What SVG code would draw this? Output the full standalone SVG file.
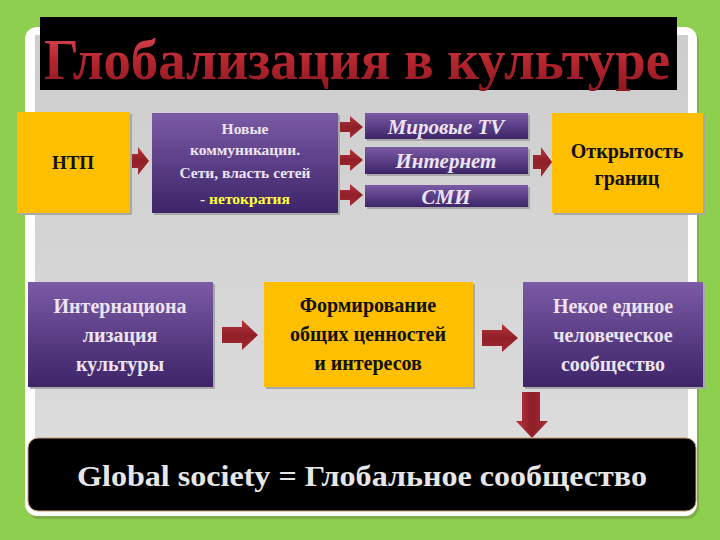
<svg xmlns="http://www.w3.org/2000/svg" width="720" height="540" viewBox="0 0 720 540">
<style>
.sh{fill:#a8a8a8}
.yel{fill:#fdbf00}
.pur{fill:url(#purple)}
text{font-family:"Liberation Serif","Times New Roman","DejaVu Serif",serif;font-weight:bold}
.dk{fill:#111;text-anchor:middle}
.lt{fill:#ece4f2;text-anchor:middle}
.it{font-style:italic;fill:#ece4f2;text-anchor:middle;font-size:21px}
.ah{fill:url(#arrowH)}
.av{fill:url(#arrowV)}
</style>
<defs>
<linearGradient id="purple" x1="0" y1="0" x2="0" y2="1">
<stop offset="0" stop-color="#7b5aa6"/>
<stop offset="1" stop-color="#3d2467"/>
</linearGradient>
<linearGradient id="panel" x1="0" y1="0" x2="0" y2="1">
<stop offset="0" stop-color="#cdcdcd"/>
<stop offset="1" stop-color="#dedede"/>
</linearGradient>
<linearGradient id="title" x1="0" y1="0" x2="0" y2="1">
<stop offset="0" stop-color="#e0505a"/>
<stop offset="0.5" stop-color="#b8262f"/>
<stop offset="1" stop-color="#8a1820"/>
</linearGradient>
<linearGradient id="arrowH" x1="0" y1="0" x2="0" y2="1">
<stop offset="0" stop-color="#b8343c"/>
<stop offset="0.5" stop-color="#8f1f28"/>
<stop offset="1" stop-color="#a52a33"/>
</linearGradient>
<linearGradient id="arrowV" x1="0" y1="0" x2="1" y2="0">
<stop offset="0" stop-color="#b8343c"/>
<stop offset="0.5" stop-color="#8f1f28"/>
<stop offset="1" stop-color="#a52a33"/>
</linearGradient>
</defs>
<rect x="0" y="0" width="720" height="540" fill="#8fcf4f"/>
<rect x="27" y="30" width="672" height="489" rx="12" fill="#7fb048"/>
<rect x="25" y="27" width="672" height="489" rx="12" fill="#ffffff"/>
<rect x="35" y="35" width="653" height="472" fill="url(#panel)"/>
<g id="title-bar">
<rect x="40" y="17" width="637" height="73" fill="#000"/>
<text x="357" y="79" font-size="58" fill="url(#title)" text-anchor="middle" textLength="626" lengthAdjust="spacingAndGlyphs">Глобализация в культуре</text>
</g>
<g id="connectors">
<path class="ah" d="M130,154 H138 V147 L149,161 L138,175 V168 H130 Z"/>
<path class="ah" d="M338,122 H350 V116 L363,127 L350,138 V132 H338 Z"/>
<path class="ah" d="M338,155 H350 V149 L363,160 L350,171 V165 H338 Z"/>
<path class="ah" d="M338,190 H350 V184 L363,195 L350,206 V200 H338 Z"/>
<path class="ah" d="M533,155 H541 V147 L552,162 L541,177 V169 H533 Z"/>
<path class="ah" d="M222,327 H242 V320 L258,335 L242,350 V343 H222 Z"/>
<path class="ah" d="M482,330 H502 V324 L518,338 L502,352 V346 H482 Z"/>
<path class="av" d="M522,392 H540 V421 H548 L532,438 L516,421 H522 Z"/>
</g>
<g id="ntp">
<rect class="sh" x="19" y="114" width="113" height="101"/>
<rect class="yel" x="17" y="112" width="113" height="101"/>
<text class="dk" x="73" y="169" font-size="19">НТП</text>
</g>
<g id="new-comm">
<rect class="sh" x="154" y="115" width="186" height="100"/>
<rect class="pur" x="152" y="113" width="186" height="100"/>
<text class="lt" x="245" y="134" font-size="15.5">Новые</text>
<text class="lt" x="245" y="155" font-size="15.5">коммуникации.</text>
<text class="lt" x="245" y="178" font-size="15.5">Сети, власть сетей</text>
<text class="lt" x="245" y="204" font-size="15.5">- <tspan fill="#ffff3a">нетократия</tspan></text>
</g>
<g id="tv">
<rect class="sh" x="367" y="115" width="163" height="26"/>
<rect class="pur" x="365" y="113" width="163" height="26"/>
<text class="it" x="446" y="134">Мировые TV</text>
</g>
<g id="internet">
<rect class="sh" x="367" y="149" width="163" height="27"/>
<rect class="pur" x="365" y="147" width="163" height="27"/>
<text class="it" x="446" y="168">Интернет</text>
</g>
<g id="smi">
<rect class="sh" x="367" y="187" width="163" height="22"/>
<rect class="pur" x="365" y="185" width="163" height="22"/>
<text class="it" x="446" y="204">СМИ</text>
</g>
<g id="open">
<rect class="sh" x="554" y="115" width="151" height="100"/>
<rect class="yel" x="552" y="113" width="151" height="100"/>
<text class="dk" x="627" y="158" font-size="20">Открытость</text>
<text class="dk" x="627" y="185" font-size="20">границ</text>
</g>
<g id="internat">
<rect class="sh" x="30" y="284" width="185" height="105"/>
<rect class="pur" x="28" y="282" width="185" height="105"/>
<text class="lt" x="120" y="313" font-size="20">Интернациона</text>
<text class="lt" x="120" y="342" font-size="20">лизация</text>
<text class="lt" x="120" y="371" font-size="20">культуры</text>
</g>
<g id="forming">
<rect class="sh" x="266" y="284" width="209" height="105"/>
<rect class="yel" x="264" y="282" width="209" height="105"/>
<text class="dk" x="368" y="312" font-size="20">Формирование</text>
<text class="dk" x="368" y="341" font-size="20">общих ценностей</text>
<text class="dk" x="368" y="370" font-size="20">и интересов</text>
</g>
<g id="community">
<rect class="sh" x="525" y="284" width="180" height="105"/>
<rect class="pur" x="523" y="282" width="180" height="105"/>
<text class="lt" x="613" y="313" font-size="20">Некое единое</text>
<text class="lt" x="613" y="342" font-size="20">человеческое</text>
<text class="lt" x="613" y="371" font-size="20">сообщество</text>
</g>
<g id="global">
<rect x="28" y="438" width="668" height="73" rx="10" fill="#000" stroke="#c8a070" stroke-width="1"/>
<text x="362" y="486" font-size="30" fill="#e6e6e6" text-anchor="middle" textLength="570" lengthAdjust="spacingAndGlyphs">Global society = Глобальное сообщество</text>
</g>
</svg>
